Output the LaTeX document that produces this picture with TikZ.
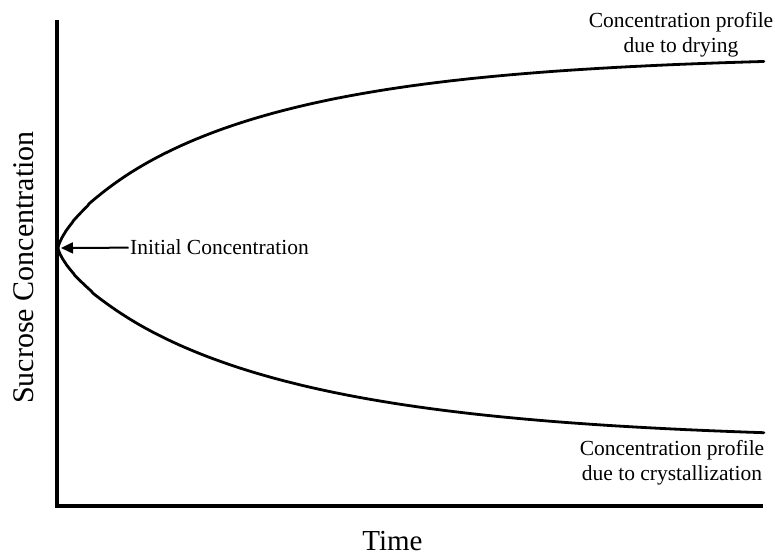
\documentclass[tikz,border=0pt]{standalone}
\usepackage{fontspec}
\setmainfont{Liberation Serif}
\usetikzlibrary{arrows.meta}
\begin{document}
\begin{tikzpicture}[x=1pt,y=1pt,
  axis/.style={line width=3.4pt},
  curve/.style={line width=2.8pt, line join=round, line cap=round},
  lbl/.style={font=\fontsize{21.5}{25.5}\selectfont, inner sep=0pt, align=center},
  axlbl/.style={font=\fontsize{29}{34}\selectfont, inner sep=0pt},
  pointer/.style={line width=2pt, -{Triangle[length=12pt,width=11pt]}}]
\useasboundingbox (0,0) rectangle (775,557);
\coordinate (top) at (57,537);
\coordinate (origin) at (57,51);
\coordinate (xend) at (763,51);
\coordinate (apex) at (58,309);
\coordinate (tip) at (61,309);
\draw[axis] (top) -- (origin) -- (xend);
% drying profile
\draw[curve] (apex) -- plot[domain=0.3:26.57, samples=160, variable=\s]
  ({58+\s*\s}, {309+193*(1-exp(-\s*\s/230))^0.72});
% crystallization profile
\draw[curve] (apex) -- plot[domain=0.3:26.57, samples=160, variable=\s]
  ({58+\s*\s}, {309-193*(1-exp(-\s*\s/250))^0.72});
\node[lbl, anchor=base west] (init) at (130,302) {Initial Concentration};
\draw[pointer, shorten <=1.5pt] (init.west) -- (tip);
\node[lbl] (dry) at (681,522) {Concentration profile\\due to drying};
\node[lbl] (crys) at (672,94.3) {Concentration profile\\due to crystallization};
\node[axlbl, anchor=base] (time) at (392.5,6.5) {Time};
\node[axlbl, font=\fontsize{30}{36}\selectfont, rotate=90, anchor=base] (ylab) at (33,289.5) {Sucrose Concentration};
\end{tikzpicture}
\end{document}
